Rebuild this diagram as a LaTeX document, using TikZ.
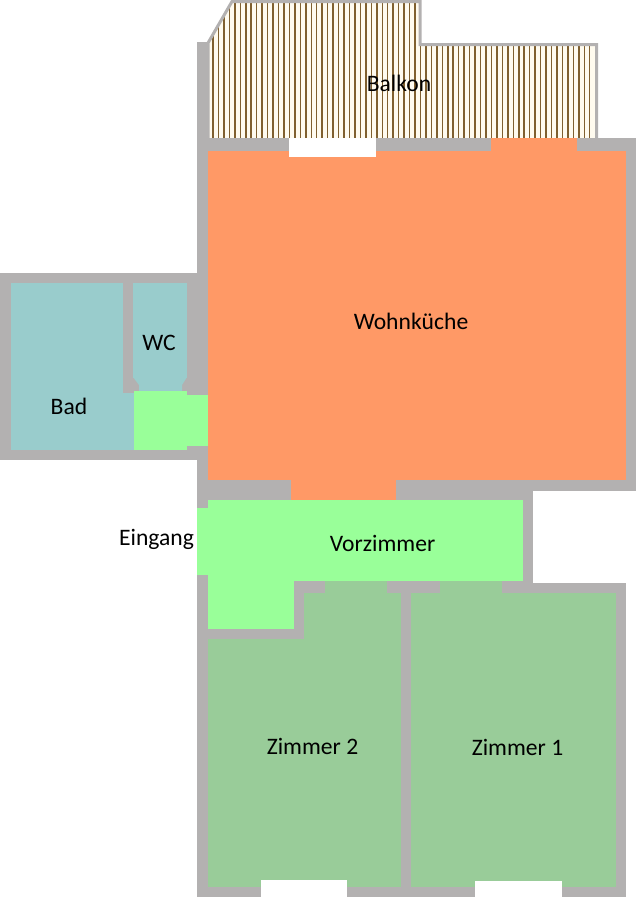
\documentclass[tikz,border=0pt]{standalone}
\usepackage{xcolor}
\usepackage{fontspec}
\setmainfont{Carlito}
\usepackage{tikz}

\definecolor{wallgray}{HTML}{B3B1B1}
\definecolor{kuechecol}{HTML}{FF9966}
\definecolor{flurcol}{HTML}{99FF99}
\definecolor{zimmercol}{HTML}{99CC99}
\definecolor{badcol}{HTML}{99CCCC}
\definecolor{balkoncol}{HTML}{FFFBEF}
\definecolor{stripecol}{HTML}{80602F}

\tikzset{
  wall/.style={fill=wallgray},
  kueche/.style={fill=kuechecol},
  flur/.style={fill=flurcol},
  zimmer/.style={fill=zimmercol},
  nass/.style={fill=badcol},
  opening/.style={fill=white},
  roomname/.style={text=black, inner sep=0pt, font=\fontsize{23.6}{25}\selectfont},
}
\newcommand{\balkonoutline}{(208,43) -- (232,1.5) -- (420,1.5) -- (420,44.5) -- (596.5,44.5) -- (596.5,139.5) -- (208,139.5) -- cycle}

\begin{document}
\begin{tikzpicture}[x=1pt, y=-1pt]
    \useasboundingbox (0,0) rectangle (636,900);

    % walls
    \fill[wall] (197,42) rectangle (208,140);
    \fill[wall] (197,138) rectangle (636,491);
    \fill[wall] (197,491) rectangle (533,583);
    \fill[wall] (197,583) rectangle (626,897);
    \fill[wall] (0,273) rectangle (197,460);

    % balcony
    \fill[balkoncol] \balkonoutline;
    \begin{scope}
      \clip \balkonoutline;
      \foreach \x in {0,...,69}
        \draw[stripecol, line width=1.5] ({213+5.46*\x},0) -- ({213+5.46*\x},139);
    \end{scope}
    \draw[wallgray, line width=3] \balkonoutline;
    \fill[wall] (197,138) rectangle (491,151);
    \fill[wall] (577,138) rectangle (636,151);

    % living room
    \fill[kueche] (208,151) rectangle (626,480);
    \fill[kueche] (491,138) rectangle (577,152);
    \fill[kueche] (291,479) rectangle (396,501);
    \fill[opening] (289,138) rectangle (376,157);

    % hall
    \fill[flur] (208,500) rectangle (523,581);
    \fill[flur] (197,508) rectangle (208,575);
    \fill[flur] (208,580) rectangle (294,629);

    % rooms
    \fill[zimmer] (304,593) rectangle (401,640);
    \fill[zimmer] (208,639) rectangle (401,887);
    \fill[zimmer] (325,581) rectangle (387,594);
    \fill[zimmer] (411,593) rectangle (616,887);
    \fill[zimmer] (440,581) rectangle (502,594);
    \fill[opening] (261,880) rectangle (347,897);
    \fill[opening] (475,881) rectangle (562,897);

    % bath and toilet
    \fill[nass] (11,283) rectangle (123,450);
    \fill[nass] (122,393) rectangle (135,450);
    \fill[nass] (133,283) rectangle (187,378);
    \fill[nass] (133,377) -- (187,377) -- (182,385) -- (182,392) -- (139,392) -- (139,385) -- cycle;
    \fill[flur] (134,391) rectangle (187,450);
    \fill[flur] (186,395) rectangle (208,446);

    % labels
    \node[roomname] (balkon) at (399,83) {Balkon};
    \node[roomname] (wohnkueche) at (411,321) {Wohnküche};
    \node[roomname] (wc) at (159,343) {WC};
    \node[roomname] (bad) at (69,406) {Bad};
    \node[roomname] (eingang) at (156.5,539) {Eingang};
    \node[roomname] (vorzimmer) at (382.5,543) {Vorzimmer};
    \node[roomname] (zimmerzwei) at (312.5,746) {Zimmer 2};
    \node[roomname] (zimmereins) at (517.5,747) {Zimmer 1};
\end{tikzpicture}
\end{document}
